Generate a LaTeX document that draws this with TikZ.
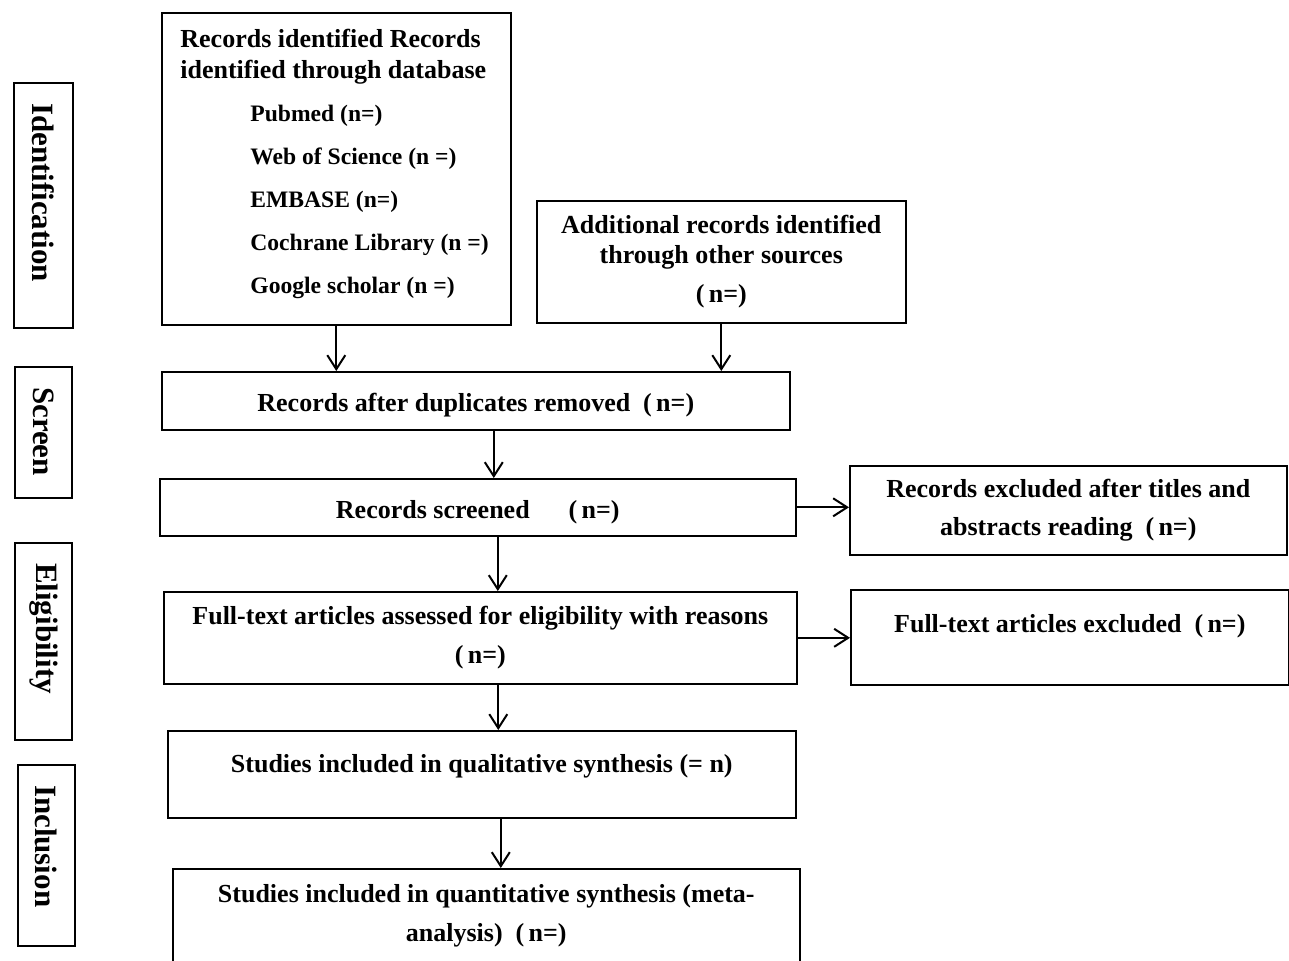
\documentclass[tikz,border=0pt]{standalone}
\usepackage{fontspec}
\setmainfont{Liberation Serif}
\usetikzlibrary{arrows.meta}

\begin{document}
\begin{tikzpicture}[x=0.5pt, y=-0.5pt,
        box/.style={draw, line width=0.8pt, inner sep=0pt, align=center, anchor=north west, font=\fontsize{13}{15}\selectfont\bfseries},
        stage/.style={draw, line width=0.8pt, rotate=-90, inner xsep=10pt, inner ysep=0pt, align=left, font=\fontsize{15.5}{18}\selectfont\bfseries},
        source/.style={anchor=base west, inner sep=0pt, font=\fontsize{11.8}{14}\selectfont\bfseries},
        flow/.style={-{Straight Barb[length=7pt,width=9pt]}, line width=1pt}]
        \useasboundingbox (0,0) rectangle (1289,960);

        \node[stage, text width=102.5pt, minimum height=29.5pt] (ident) at (43.5,205.5) {Identification};
        \node[stage, text width=45.5pt, minimum height=28.5pt] (screen) at (43.5,432.5) {Screen};
        \node[stage, text width=78.5pt, minimum height=28.5pt] (elig) at (43.5,641.5) {Eligibility};
        \node[stage, text width=70.5pt, minimum height=28.5pt] (incl) at (46.5,855.5) {Inclusion};

        \node[box, minimum width=174.5pt, minimum height=156pt] (db) at (161,12) {};
        \node[anchor=north west, inner sep=0pt, align=left, font=\fontsize{13}{15.5}\selectfont\bfseries] (dbhead) at (180,29) {Records identified Records\\identified through database};
        \foreach \src [count=\k from 0] in {Pubmed (n=), Web of Science (n =), EMBASE (n=), Cochrane Library (n =), Google scholar (n =)}
            \node[source] (src\k) at (250,{121+43*\k}) {\src};

        \node[box, minimum width=184.5pt, minimum height=61pt] (add) at (536,200) {Additional records identified\\through other sources\\[4.5pt](\,n=)};
        \node[box, minimum width=314pt, text height=20pt, text depth=9pt] (dup) at (161,371) {Records after duplicates removed\enspace(\,n=)};
        \node[box, minimum width=318pt, text height=20pt, text depth=8.5pt] (scr) at (159,478) {Records screened\quad\enspace(\,n=)};
        \node[box, minimum width=218.5pt, minimum height=44.5pt] (ex1) at (849,465) {Records excluded after titles and\\[4pt]abstracts reading\enspace(\,n=)};
        \node[box, minimum width=316.5pt, minimum height=46pt] (ft) at (163,591) {Full-text articles assessed for eligibility with reasons\\[4.5pt](\,n=)};
        \node[box, minimum width=219pt, text height=21.5pt, text depth=26pt] (ex2) at (850,589) {Full-text articles excluded\enspace(\,n=)};
        \node[box, minimum width=314pt, text height=21pt, text depth=22.5pt] (qual) at (167,730) {Studies included in qualitative synthesis (= n)};
        \node[box, minimum width=313.5pt, minimum height=47pt] (quant) at (172,868) {Studies included in quantitative synthesis (meta-\\[4.5pt]analysis)\enspace(\,n=)};

        \draw[flow] (db.south) -- (db.south |- dup.north);
        \draw[flow] (add.south) -- (add.south |- dup.north);
        \draw[flow] ([xshift=9pt]dup.south) -- ([xshift=9pt]dup.south |- scr.north);
        \draw[flow] ([xshift=10pt]scr.south) -- ([xshift=10pt]scr.south |- ft.north);
        \draw[flow] ([xshift=9pt]ft.south) -- ([xshift=9pt]ft.south |- qual.north);
        \draw[flow] ([xshift=9.5pt]qual.south) -- ([xshift=9.5pt]qual.south |- quant.north);
        \draw[flow] (scr.east) -- (scr.east -| ex1.west);
        \draw[flow] (ft.east) -- (ft.east -| ex2.west);
\end{tikzpicture}
\end{document}
